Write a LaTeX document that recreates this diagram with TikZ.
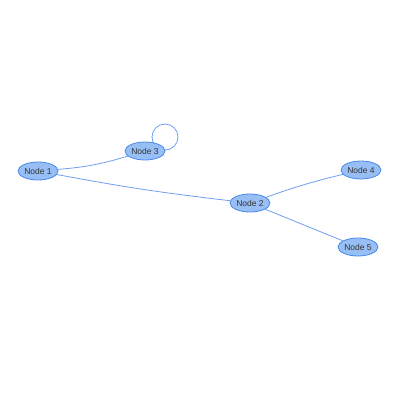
\documentclass[tikz,border=0pt]{standalone}
\usepackage{fontspec}
\setmainfont{Liberation Sans}
\usetikzlibrary{shapes.geometric}
\definecolor{nodefill}{HTML}{97BFF5}
\definecolor{nodeline}{HTML}{4A8AEA}
\definecolor{edgeline}{HTML}{6E9FEE}
\tikzset{
  vertex/.style={ellipse, draw=nodeline, fill=nodefill, line width=0.8pt,
    minimum width=40pt, minimum height=18pt, inner sep=0pt,
    font=\fontsize{8.5}{9}\selectfont, text=black!80},
  link/.style={draw=edgeline, line width=0.8pt}
}
\begin{document}
\begin{tikzpicture}[x=1pt,y=-1pt]
  \useasboundingbox (0,0) rectangle (400,400);
  % self loop behind node 3
  \draw[link] (165,137) circle (13);
  \node[vertex] (n1) at (38,171) {Node 1};
  \node[vertex] (n3) at (145,151) {Node 3};
  \node[vertex] (n2) at (250,203) {Node 2};
  \node[vertex] (n4) at (361,170) {Node 4};
  \node[vertex] (n5) at (358,247) {Node 5};
  \draw[link] (n1) to[bend right=6] (n3);
  \draw[link] (n1) to[bend right=2] (n2);
  \draw[link] (n2) to[bend left=3] (n4);
  \draw[link] (n2) -- (n5);
\end{tikzpicture}
\end{document}
